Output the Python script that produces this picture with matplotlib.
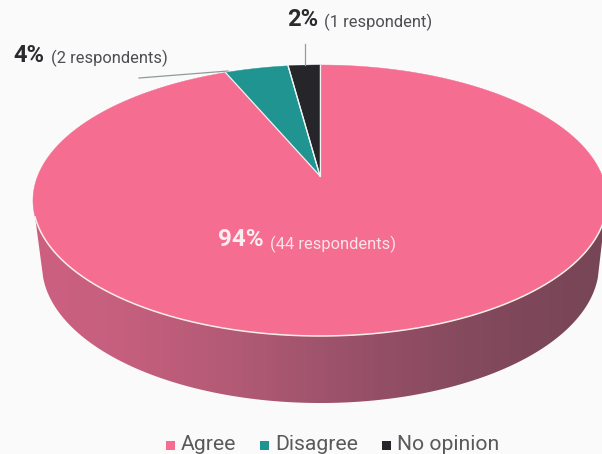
import numpy as np
import matplotlib
matplotlib.use("Agg")
import matplotlib.pyplot as plt
from matplotlib.colors import LinearSegmentedColormap
from matplotlib.patches import Polygon, Rectangle

plt.rcParams["font.family"] = ["Roboto", "DejaVu Sans"]

# clockwise from 12 o'clock: no opinion, disagree, agree
categories = ["No opinion", "Disagree", "Agree"]
respondents = [1, 2, 44]
percents = [2, 4, 94]
legend_order = ["Agree", "Disagree", "No opinion"]

colors = {"Agree": "#f56d90", "Disagree": "#1f9490", "No opinion": "#25252a"}
bg = "#fafafa"

# perspective for the pie top, worked out from top/bottom edge and the apex
CX, APEX_Y = 320, 176
R = 282.3
C = 0.1808
A = -99.25


def project(theta):
    # theta in radians, clockwise from the top
    w = 1 + C * np.cos(theta)
    x = CX + R * np.sin(theta) / w
    y = (A * np.cos(theta) + APEX_Y) / w
    return x, y


fig = plt.figure(figsize=(6.02, 4.54), dpi=100, facecolor=bg)
ax = fig.add_axes([0, 0, 1, 1])
ax.set_xlim(0, 602)
ax.set_ylim(454, 0)
ax.axis("off")

# side wall with left to right shading
t = np.linspace(np.pi / 2 + 0.3, 3 * np.pi / 2 - 0.3, 300)
top_x, top_y = project(t)
phi = np.linspace(0.09, np.pi - 0.09, 300)
bot_x = 320.5 + 278.5 * np.cos(phi)
bot_y = 265 + 138 * np.sin(phi)
wall = np.vstack([np.column_stack([top_x, top_y]),
                  np.column_stack([bot_x[::-1], bot_y[::-1]])])

wall_cmap = LinearSegmentedColormap.from_list(
    "wall", ["#cf5f82", "#c65f7e", "#b15a75", "#975068", "#83495c", "#774656"])
grad = np.linspace(0, 1, 602).reshape(1, -1)
im = ax.imshow(grad, extent=(0, 602, 454, 0), cmap=wall_cmap, aspect="auto", zorder=1)
im.set_clip_path(Polygon(wall, transform=ax.transData))

# top face
start = 0
total = sum(respondents)
for name, val in sorted(zip(categories, respondents), key=lambda p: p[1]):
    end = start - val / total * 2 * np.pi
    th = np.linspace(start, end, 400)
    xs, ys = project(th)
    xs = np.concatenate([[CX], xs])
    ys = np.concatenate([[APEX_Y], ys])
    ax.fill(xs, ys, facecolor=colors[name], edgecolor=colors[name], linewidth=0.3, zorder=2)
    if name != "Agree":
        ax.plot(xs[[0, 1]], ys[[0, 1]], color="#eef3f2", linewidth=0.9, zorder=3)
        ax.plot(xs[[0, -1]], ys[[0, -1]], color="#eef3f2", linewidth=0.9, zorder=3)
    start = end

# light rim along the front
rim = np.linspace(np.pi / 2 + 0.3, 3 * np.pi / 2 - 0.3, 300)
ax.plot(*project(rim), color="#f8eee8", linewidth=1.1, zorder=3)

# leader lines
ax.plot([305, 305], [44, 65], color="#9a9a9a", linewidth=0.9, zorder=3)
ax.plot([139, 228], [78, 71], color="#8f9a9a", linewidth=0.9, zorder=3)

# labels
dark = "#2b2b2f"
soft = "#4d4d52"
ax.text(287, 19, f"{percents[0]}%", fontsize=17, fontweight="bold", color=dark, va="center", ha="left")
ax.text(324, 22, f"({respondents[0]} respondent)", fontsize=11.9, color=soft, va="center", ha="left")
ax.text(13, 56, f"{percents[1]}%", fontsize=17, fontweight="bold", color=dark, va="center", ha="left")
ax.text(51, 58, f"({respondents[1]} respondents)", fontsize=11.9, color=soft, va="center", ha="left")
ax.text(218, 240, f"{percents[2]}%", fontsize=17.5, fontweight="bold", color="#fbeef0", va="center", ha="left", zorder=4)
ax.text(270, 244, f"({respondents[2]} respondents)", fontsize=11.9, color="#fbe3e8", va="center", ha="left", zorder=4)

# legend
legend_x = [166, 260, 382]
for name, x in zip(legend_order, legend_x):
    ax.add_patch(Rectangle((x, 441), 9, 9, facecolor=colors[name], edgecolor="none", zorder=3))
    ax.text(x + 15, 444, name, fontsize=15.2, color="#59595c", va="center", ha="left")

fig.savefig("out.png", dpi=100, facecolor=bg)
